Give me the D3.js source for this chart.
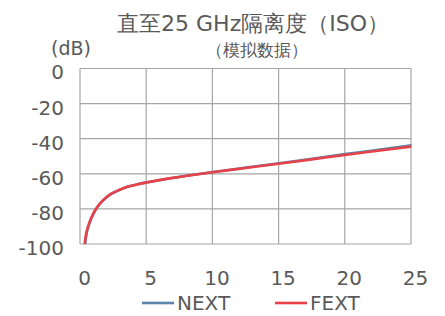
<!DOCTYPE html>
<html>
<head>
<meta charset="utf-8">
<script src="https://cdn.jsdelivr.net/npm/d3@7"></script>
<style>
  body { margin: 0; background: #fff; }
  text { font-family: "DejaVu Sans", sans-serif; fill: #595959; }
</style>
</head>
<body>
<div id="chart"></div>
<script>
// frequency points (GHz)
const freq = [0.35, 0.45, 0.6, 0.8, 1, 1.3, 1.6, 2, 2.4, 3, 3.6, 4.3, 5, 6, 7.5, 10, 12.5, 15, 17.5, 20, 22.5, 25];
const nextVals = [-100, -94.5, -90, -85.8, -82.5, -78.8, -76, -73.2, -71.1, -69, -67.3, -66, -64.9, -63.5, -61.7, -59, -56.5, -54, -51.4, -48.8, -46.3, -43.8];
const fextVals = [-100, -94.7, -90.2, -86, -82.6, -78.9, -76.1, -73.3, -71.2, -69.1, -67.4, -66.1, -65, -63.6, -61.8, -59.1, -56.7, -54.3, -51.8, -49.3, -46.9, -44.5];
const xTicks = [0, 5, 10, 15, 20, 25];
const yTicks = [0, -20, -40, -60, -80, -100];
const seriesNames = ['NEXT', 'FEXT'];
const seriesColors = ['#5a84a9', '#e8414a'];

const width = 445, height = 316;
const margin = { top: 68.5, right: 34, bottom: 72, left: 80 };
const plotW = width - margin.left - margin.right;
const plotH = height - margin.top - margin.bottom;

const svg = d3.select('#chart').append('svg')
    .attr('width', width)
    .attr('height', height);

const root = svg.append('g')
    .attr('transform', 'translate(' + margin.left + ',' + margin.top + ')');

const x = d3.scaleLinear().domain([0, 25]).range([0, plotW]);
const y = d3.scaleLinear().domain([-100, 0]).range([plotH, 0]);

// grid
root.selectAll('.vgrid').data(xTicks).enter().append('line')
    .attr('x1', d => x(d)).attr('x2', d => x(d))
    .attr('y1', 0).attr('y2', plotH)
    .attr('stroke', '#a6a6a6').attr('stroke-width', 1.2);
root.selectAll('.hgrid').data(yTicks).enter().append('line')
    .attr('x1', 0).attr('x2', plotW)
    .attr('y1', d => y(d)).attr('y2', d => y(d))
    .attr('stroke', '#a6a6a6').attr('stroke-width', 1.2);

// axes labels (plain hyphen, not unicode minus)
const xAxis = root.append('g')
    .attr('transform', 'translate(4,' + (plotH + 41) + ')')
    .call(d3.axisBottom(x).tickValues(xTicks).tickSize(0).tickPadding(0).tickFormat(d => String(d)));
const yAxis = root.append('g')
    .attr('transform', 'translate(-16,4)')
    .call(d3.axisLeft(y).tickValues(yTicks).tickSize(0).tickPadding(0).tickFormat(d => String(d)));
[xAxis, yAxis].forEach(a => {
    a.select('.domain').remove();
    a.selectAll('text').style('font-size', '20px').attr('fill', '#595959')
        .style('font-family', '"DejaVu Sans", sans-serif');
});
xAxis.selectAll('text').attr('y', 0).attr('dy', 0);

// lines
const line = d3.line()
    .x(d => x(d[0]))
    .y(d => y(d[1]))
    .curve(d3.curveMonotoneX);

[nextVals, fextVals].forEach((vals, i) => {
    root.append('path')
        .datum(freq.map((f, j) => [f + (i === 0 ? 0.04 : 0), vals[j]]))
        .attr('fill', 'none')
        .attr('stroke', seriesColors[i])
        .attr('stroke-width', 2.6)
        .attr('d', line);
});

// titles
svg.append('text')
    .attr('x', 253).attr('y', 31)
    .attr('text-anchor', 'middle')
    .style('font-size', '22px')
    .text('直至25 GHz隔离度（ISO）');
svg.append('text')
    .attr('x', 257).attr('y', 56)
    .attr('text-anchor', 'middle')
    .style('font-size', '17px')
    .text('（模拟数据）');
svg.append('text')
    .attr('x', 51).attr('y', 55)
    .style('font-size', '19px')
    .text('(dB)');

// legend
const legend = svg.append('g').attr('transform', 'translate(142,303)');
const item = legend.selectAll('g').data(seriesNames).enter().append('g')
    .attr('transform', (d, i) => 'translate(' + (i * 133) + ',0)');
item.append('line')
    .attr('x1', 0).attr('x2', 32).attr('y1', 0).attr('y2', 0)
    .attr('stroke', (d, i) => seriesColors[i])
    .attr('stroke-width', 2.6);
item.append('text')
    .attr('x', 35).attr('y', 0).attr('dy', '0.36em')
    .style('font-size', '20px')
    .text(d => d);
</script>
</body>
</html>
